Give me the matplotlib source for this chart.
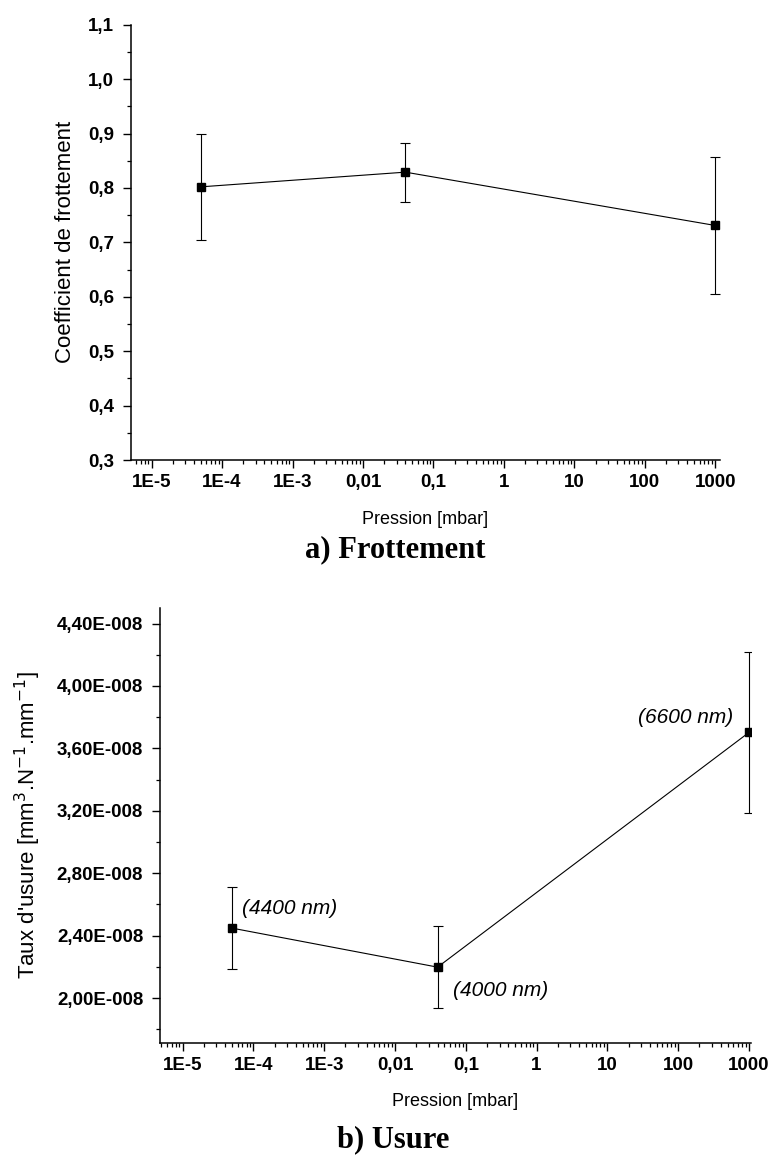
# friction and wear vs pressure

import numpy as np
import matplotlib.pyplot as plt
from matplotlib.ticker import FixedLocator, LogLocator, MultipleLocator, NullFormatter

# pressure values (mbar)
pression = [5e-5, 0.04, 1000]

# a) friction coefficient
frottement = [0.802, 0.829, 0.731]
frottement_err = [0.098, 0.054, 0.126]

# b) wear rate
usure = [2.448e-8, 2.198e-8, 3.702e-8]
usure_err = [0.264e-8, 0.262e-8, 0.518e-8]
usure_labels = ["(4400 nm)", "(4000 nm)", "(6600 nm)"]

# tick labels
x_ticks = [1e-5, 1e-4, 1e-3, 0.01, 0.1, 1, 10, 100, 1000]
x_ticklabels = ["1E-5", "1E-4", "1E-3", "0,01", "0,1", "1", "10", "100", "1000"]
y1_ticks = [0.3, 0.4, 0.5, 0.6, 0.7, 0.8, 0.9, 1.0, 1.1]
y1_ticklabels = ["0,3", "0,4", "0,5", "0,6", "0,7", "0,8", "0,9", "1,0", "1,1"]
y2_ticks = [2.0e-8, 2.4e-8, 2.8e-8, 3.2e-8, 3.6e-8, 4.0e-8, 4.4e-8]
y2_ticklabels = ["2,00E-008", "2,40E-008", "2,80E-008", "3,20E-008",
                 "3,60E-008", "4,00E-008", "4,40E-008"]

sans = "Liberation Sans"
serif = "Liberation Serif"

fig = plt.figure(figsize=(7.72, 11.64), dpi=100)

ax1 = fig.add_axes([0.1697, 0.6048, 0.7630, 0.3740])
ax2 = fig.add_axes([0.2073, 0.1037, 0.7655, 0.3740])


def style_axes(ax, yticks, yticklabels, yminor, xlim, ylim):
    ax.set_xscale("log")
    ax.set_xlim(*xlim)
    ax.set_ylim(*ylim)
    ax.spines["top"].set_visible(False)
    ax.spines["right"].set_visible(False)
    ax.spines["left"].set_linewidth(1.1)
    ax.spines["bottom"].set_linewidth(1.1)
    ax.xaxis.set_major_locator(FixedLocator(x_ticks))
    ax.set_xticklabels(x_ticklabels)
    ax.xaxis.set_minor_locator(LogLocator(base=10, subs=np.arange(2, 10), numticks=30))
    ax.xaxis.set_minor_formatter(NullFormatter())
    ax.set_yticks(yticks)
    ax.set_yticklabels(yticklabels)
    ax.yaxis.set_minor_locator(MultipleLocator(yminor))
    ax.tick_params(which="major", length=6, width=1.0, pad=4)
    ax.tick_params(which="minor", length=3, width=0.9)
    ax.tick_params(axis="y", which="major", pad=6)
    for lab in ax.get_xticklabels() + ax.get_yticklabels():
        lab.set_fontfamily(sans)
        lab.set_fontweight("bold")
        lab.set_fontsize(13.5)


# a) Frottement
ax1.errorbar(pression, frottement, yerr=frottement_err, color="black", lw=0.8,
             marker="s", markersize=6, capsize=3.5, elinewidth=0.8, capthick=0.8)
style_axes(ax1, y1_ticks, y1_ticklabels, 0.05, (5.1e-6, 1170), (0.3, 1.1))
ax1.set_ylabel("Coefficient de frottement", fontfamily=sans, fontsize=16)
ax1.yaxis.set_label_coords(-0.093, 0.5)
ax1.set_xlabel("Pression [mbar]", fontfamily=sans, fontsize=13)
ax1.xaxis.set_label_coords(0.5, -0.118)

# b) Usure
ax2.errorbar(pression, usure, yerr=usure_err, color="black", lw=0.8,
             marker="s", markersize=6, capsize=3.5, elinewidth=0.8, capthick=0.8)
style_axes(ax2, y2_ticks, y2_ticklabels, 0.2e-8, (4.8e-6, 1070), (1.71e-8, 4.5e-8))
ax2.set_ylabel("Taux d'usure [mm$^{3}$.N$^{-1}$.mm$^{-1}$]", fontfamily=sans, fontsize=16)
ax2.yaxis.set_label_coords(-0.198, 0.5)
ax2.set_xlabel("Pression [mbar]", fontfamily=sans, fontsize=13)
ax2.xaxis.set_label_coords(0.5, -0.115)

offsets = [(7, 14, "left"), (11, -17, "left"), (-11, 11, "right")]
for x, y, txt, (dx, dy, ha) in zip(pression, usure, usure_labels, offsets):
    ax2.annotate(txt, (x, y), xytext=(dx, dy), textcoords="offset points",
                 ha=ha, va="center", fontfamily=sans, fontstyle="italic", fontsize=15)

fig.text(0.512, 0.5275, "a) Frottement", ha="center", va="center",
         fontfamily=serif, fontweight="bold", fontsize=22)
fig.text(0.509, 0.021, "b) Usure", ha="center", va="center",
         fontfamily=serif, fontweight="bold", fontsize=22)

fig.savefig("out.png", dpi=100)
